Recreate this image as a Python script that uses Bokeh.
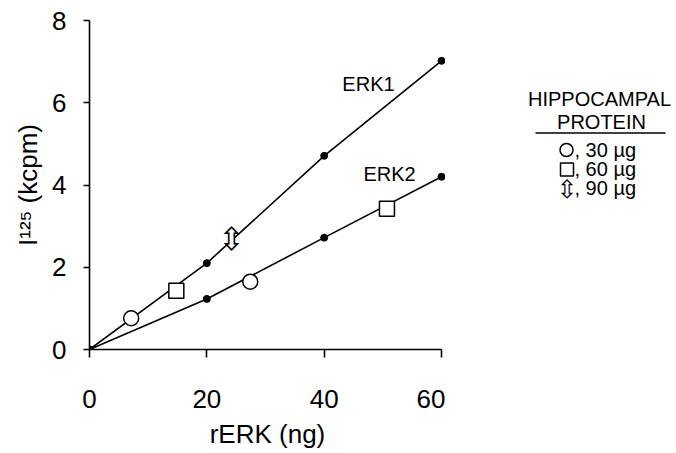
from bokeh.plotting import figure
from bokeh.layouts import row
from bokeh.models import Range1d, Label, FixedTicker
from bokeh.core.properties import value
from bokeh.embed import file_html
from bokeh.resources import INLINE

# ---- data ----
rerk_ng = [0, 20, 40, 60]
erk1_kcpm = [0, 2.10, 4.71, 7.02]
erk2_kcpm = [0, 1.23, 2.72, 4.20]

hip30_x = [7.1, 27.4]
hip30_y = [0.76, 1.65]
hip60_x = [14.8, 50.7]
hip60_y = [1.43, 3.42]
hip90_x = [24.2]
hip90_y = [2.69]

x_ticks = [0, 20, 40, 60]
y_ticks = [0, 2, 4, 6, 8]

legend_title = ["HIPPOCAMPAL", "PROTEIN"]
legend_labels = [", 30 \u00b5g", ", 60 \u00b5g", ", 90 \u00b5g"]

FONT = "Liberation Sans"

# ---------------- main plot ----------------
p = figure(width=445, height=453, output_backend="svg", toolbar_location=None,
           x_range=Range1d(0, 60.68), y_range=Range1d(0, 8),
           min_border_left=89, min_border_right=0, min_border_top=20, min_border_bottom=104)
p.outline_line_color = None
p.xgrid.visible = False
p.ygrid.visible = False
p.border_fill_color = "white"

for ax, ticks, bounds in ((p.xaxis[0], x_ticks, (0, 60)), (p.yaxis[0], y_ticks, (0, 8))):
    ax.ticker = FixedTicker(ticks=ticks)
    ax.bounds = bounds
    ax.axis_line_width = 1.6
    ax.axis_line_color = "black"
    ax.major_tick_line_width = 1.6
    ax.major_tick_line_color = "black"
    ax.major_tick_in = 0
    ax.minor_tick_line_color = None
    ax.major_label_text_font = FONT
    ax.major_label_text_font_size = "26px"
    ax.major_label_text_color = "black"
    ax.axis_label_text_font = FONT
    ax.axis_label_text_font_size = "26px"
    ax.axis_label_text_font_style = "normal"
    ax.axis_label_text_color = "black"

p.xaxis[0].major_tick_out = 8
p.xaxis[0].major_label_standoff = 32
p.xaxis[0].axis_label = "rERK (ng)"
p.xaxis[0].axis_label_standoff = 8
p.yaxis[0].major_tick_out = 6
p.yaxis[0].major_label_standoff = 17
p.yaxis[0].axis_label = "I\u00b9\u00b2\u2075 (kcpm)"
p.yaxis[0].axis_label_standoff = 6

p.line(rerk_ng, erk1_kcpm, line_color="black", line_width=1.6)
p.line(rerk_ng, erk2_kcpm, line_color="black", line_width=1.6)
p.scatter(rerk_ng, erk1_kcpm, size=7, marker="circle", fill_color="black", line_color="black")
p.scatter(rerk_ng, erk2_kcpm, size=7, marker="circle", fill_color="black", line_color="black")

p.scatter(hip30_x, hip30_y, size=15, marker="circle", fill_color="white",
          line_color="black", line_width=1.5)
p.scatter(hip60_x, hip60_y, size=15, marker="square", fill_color="white",
          line_color="black", line_width=1.5)
p.rect(hip90_x, hip90_y, width=7, height=17, width_units="screen", height_units="screen",
       fill_color="white", line_color=None)
p.text(hip90_x, hip90_y, text=["\u21f3"], text_align="center", text_baseline="middle",
       text_font=value("DejaVu Sans"), text_font_size="32px", text_color="black")

p.add_layout(Label(x=43.1, y=6.45, text="ERK1", text_font=FONT, text_font_size="20px",
                   text_color="black", text_align="left", text_baseline="alphabetic"))
p.add_layout(Label(x=46.7, y=4.26, text="ERK2", text_font=FONT, text_font_size="20px",
                   text_color="black", text_align="left", text_baseline="alphabetic"))

# ---------------- legend panel (page pixel coordinates) ----------------
lg = figure(width=231, height=453, output_backend="svg", toolbar_location=None,
            x_range=Range1d(445, 676), y_range=Range1d(349, 20),
            min_border_left=0, min_border_right=0, min_border_top=20, min_border_bottom=104,
            x_axis_type=None, y_axis_type=None)
lg.outline_line_color = None
lg.xgrid.visible = False
lg.ygrid.visible = False
lg.border_fill_color = "white"

lg.text([599, 601], [98, 121], text=legend_title, text_align="center",
        text_baseline="alphabetic", text_font=value(FONT), text_font_size="20px",
        text_color="black")
lg.segment(x0=[535], y0=[132.5], x1=[665], y1=[132.5], line_color="black", line_width=1.3)
lg.scatter([566], [149.5], size=13, marker="circle", fill_color="white",
           line_color="black", line_width=1.5)
lg.scatter([566.5], [169], size=13, marker="square", fill_color="white",
           line_color="black", line_width=1.5)
lg.text([566.5], [188.5], text=["\u21f3"], text_align="center", text_baseline="middle",
        text_font=value("DejaVu Sans"), text_font_size="25px", text_color="black")
lg.text([574, 574, 574], [149.5, 168.5, 187.5], text=legend_labels, text_align="left",
        text_baseline="alphabetic", text_font=value(FONT), text_font_size="20px",
        text_color="black")

layout = row(p, lg, spacing=0)
open("out.html", "w").write(file_html(layout, INLINE))
